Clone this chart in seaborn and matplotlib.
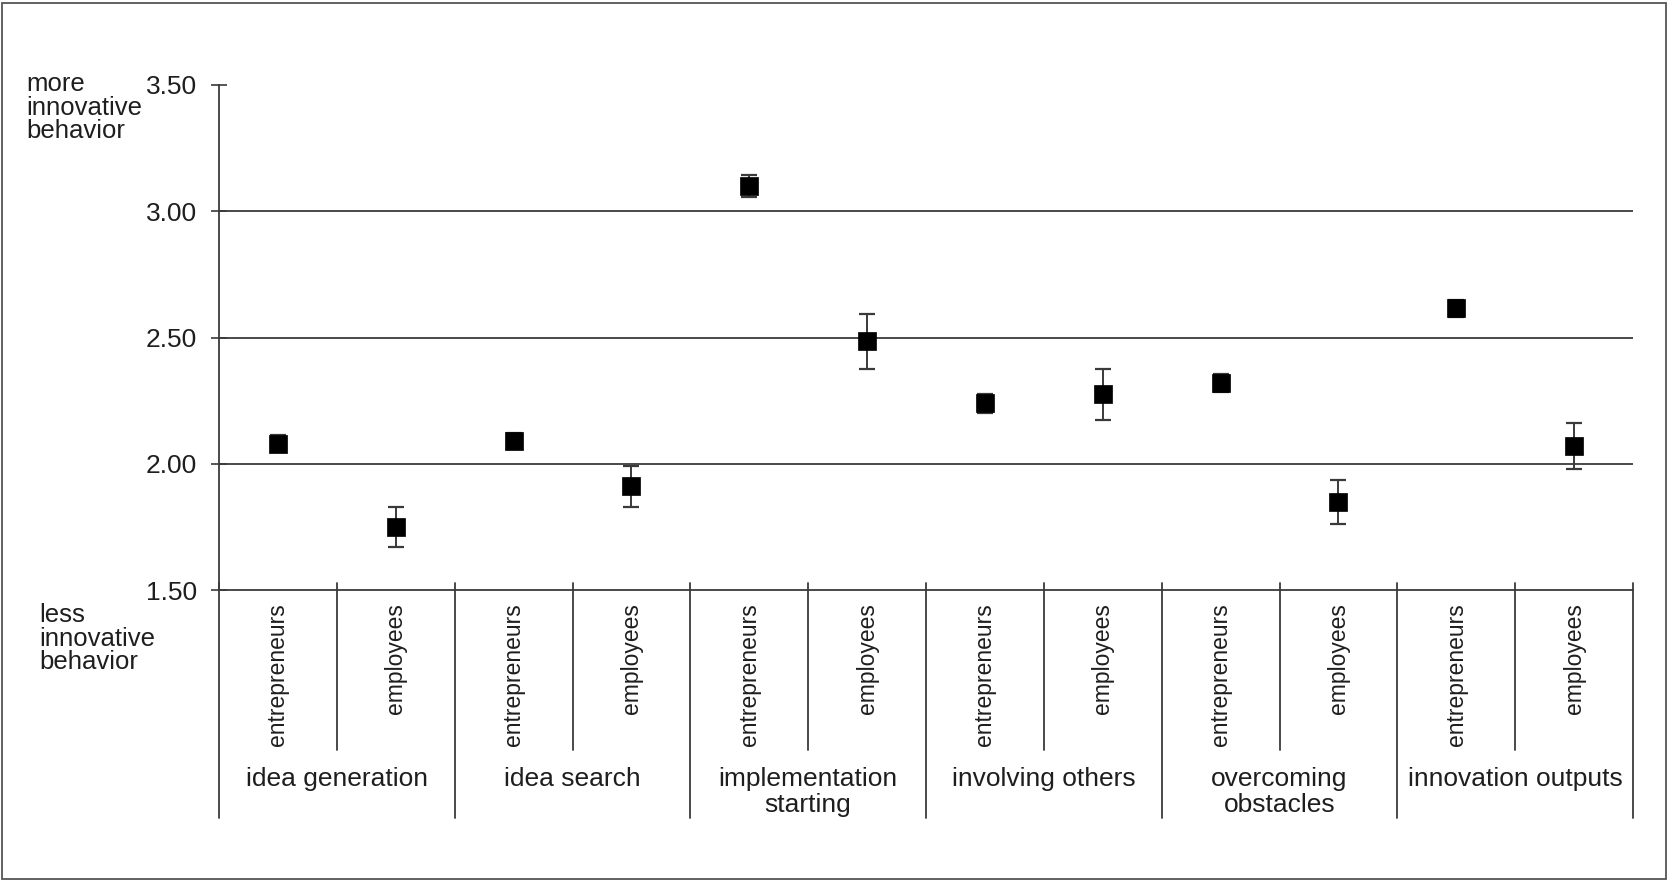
"""
Innovative behavior of entrepreneurs vs employees: means with error bars
"""

import pandas as pd
import matplotlib.pyplot as plt
import seaborn as sns
import numpy as np
from matplotlib.patches import Rectangle
import matplotlib.transforms as mtransforms

# data
groups = ['idea generation', 'idea search', 'implementation\nstarting',
          'involving others', 'overcoming\nobstacles', 'innovation outputs']
roles = ['entrepreneurs', 'employees']
ent_mean = [2.08, 2.09, 3.10, 2.24, 2.32, 2.615]
ent_err = [0.035, 0.03, 0.043, 0.038, 0.037, 0.035]
emp_mean = [1.75, 1.91, 2.485, 2.275, 1.85, 2.07]
emp_err = [0.08, 0.083, 0.108, 0.10, 0.087, 0.09]
y_ticks = [1.50, 2.00, 2.50, 3.00, 3.50]

rows = []
for g, em, ee, pm, pe in zip(groups, ent_mean, ent_err, emp_mean, emp_err):
    rows.append({'group': g, 'role': roles[0], 'mean': em, 'err': ee})
    rows.append({'group': g, 'role': roles[1], 'mean': pm, 'err': pe})
df = pd.DataFrame(rows)
df['pos'] = np.arange(len(df))

sns.set_theme(style='white')
plt.rcParams['font.family'] = ['Liberation Sans', 'DejaVu Sans']

W, H = 1669, 882
fig = plt.figure(figsize=(W / 100, H / 100), dpi=100)
ax = fig.add_axes([219 / W, 1 - 590 / H, (1633 - 219) / W, (590 - 85) / H])

grey = '#3a3a3a'
txt = '#1e1e1e'

# error bars + square markers
ax.errorbar(df['pos'], df['mean'], yerr=df['err'], fmt='none',
            ecolor=grey, elinewidth=1.4, capsize=6, capthick=1.6, zorder=3)
sns.scatterplot(data=df, x='pos', y='mean', marker='s', s=170, color='black',
                edgecolor='black', linewidth=0.5, ax=ax, zorder=4, legend=False)

# horizontal gridlines
for t in y_ticks[1:-1]:
    ax.axhline(t, color=grey, lw=1.3, zorder=1)

ax.set_xlim(-0.5, len(df) - 0.5)
ax.set_ylim(y_ticks[0], y_ticks[-1])
ax.set_yticks(y_ticks)
ax.set_yticklabels([f'{t:.2f}' for t in y_ticks], fontsize=19, color=txt)
ax.tick_params(axis='y', direction='inout', length=11.5, width=1.2,
               color=grey, pad=10, left=True)
ax.set_xticks([])
ax.set_xlabel('')
ax.set_ylabel('')
for side in ['top', 'right']:
    ax.spines[side].set_visible(False)
for side in ['left', 'bottom']:
    ax.spines[side].set_color(grey)
    ax.spines[side].set_linewidth(1.3)

# category dividers and labels under the axis
axh = 590 - 85
trans = mtransforms.blended_transform_factory(ax.transData, ax.transAxes)
for i in range(len(df) + 1):
    b = i - 0.5
    low = -228 / axh if i % 2 == 0 else -160 / axh
    ax.plot([b, b], [7 / axh, low], transform=trans, color=grey, lw=1.3,
            clip_on=False)

for _, r in df.iterrows():
    ax.text(r['pos'], -13 / axh, r['role'], rotation=90, ha='center', va='top',
            fontsize=16.5, color=txt, transform=trans)

for k, g in enumerate(groups):
    ax.text(2 * k + 0.5, -(767 - 590) / axh, g, ha='center', va='top',
            fontsize=19, color=txt, transform=trans, linespacing=1.08)

fig.text(26 / W, 1 - 72 / H, 'more\ninnovative\nbehavior', ha='left', va='top',
         fontsize=18.5, color=txt, linespacing=0.98)
fig.text(39 / W, 1 - 603 / H, 'less\ninnovative\nbehavior', ha='left', va='top',
         fontsize=18.5, color=txt, linespacing=0.98)

# outer frame
fig.patches.append(Rectangle((2 / W, 3 / H), (1666 - 2) / W, (879 - 3) / H,
                             transform=fig.transFigure, fill=False,
                             edgecolor='#555555', lw=1.3))

fig.savefig('out.png', dpi=100)
plt.close()
